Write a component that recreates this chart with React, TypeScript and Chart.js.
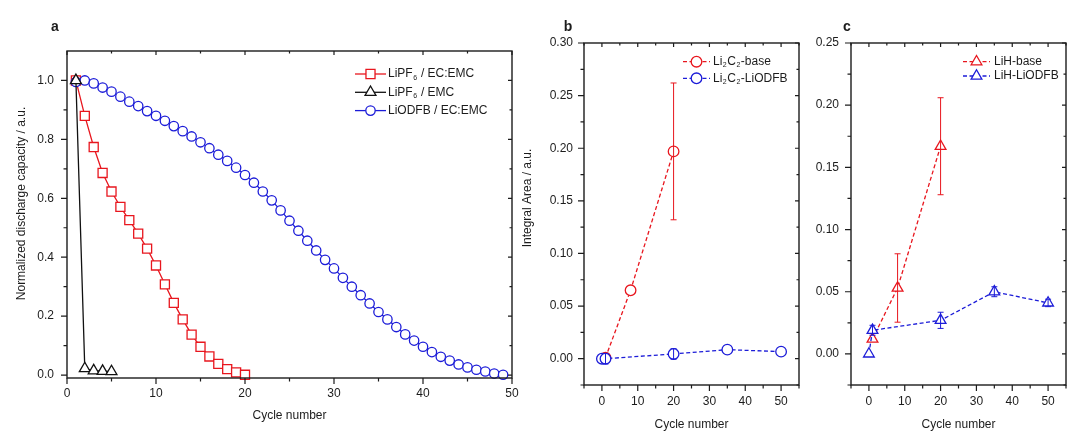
import { useEffect, useRef } from "react"
import { Chart, registerables } from "chart.js"

Chart.register(...registerables)

const FONT = "'Liberation Sans', Arial, Helvetica, sans-serif"
const INK = "#1c1c1c"
const RED = "#e8161e"
const BLUE = "#1c1cd8"

// panel a: normalized discharge capacity vs cycle
const cyclesA = [
	1, 2, 3, 4, 5, 6, 7, 8, 9, 10, 11, 12, 13, 14, 15, 16, 17, 18, 19, 20, 21, 22, 23, 24, 25, 26, 27, 28, 29, 30, 31, 32,
	33, 34, 35, 36, 37, 38, 39, 40, 41, 42, 43, 44, 45, 46, 47, 48, 49
]
const lipf6EcEmc = [
	1.0, 0.88, 0.774, 0.686, 0.623, 0.571, 0.526, 0.48, 0.429, 0.372, 0.308, 0.245, 0.189, 0.137, 0.096, 0.063, 0.038,
	0.02, 0.009, 0.001
]
const lipf6Emc = [1.0, 0.022, 0.015, 0.013, 0.012]
const liodfbEcEmc = [
	0.995, 1.0, 0.99, 0.976, 0.962, 0.945, 0.928, 0.913, 0.896, 0.88, 0.863, 0.845, 0.828, 0.81, 0.79, 0.77, 0.748, 0.727,
	0.704, 0.679, 0.653, 0.623, 0.593, 0.559, 0.524, 0.49, 0.456, 0.423, 0.391, 0.362, 0.33, 0.3, 0.271, 0.243, 0.214,
	0.189, 0.163, 0.138, 0.117, 0.096, 0.078, 0.062, 0.049, 0.036, 0.026, 0.018, 0.012, 0.005, 0.001
]

// panel b: Li2C2 integral area
const cyclesBase = [1, 8, 20]
const cyclesOdfb = [0, 1, 20, 35, 50]
const li2c2Base = [0.001, 0.065, 0.197]
const li2c2BaseErr = [0, 0, 0.065]
const li2c2Odfb = [0, 0, 0.0045, 0.0086, 0.0067]
const li2c2OdfbErr = [0, 0.005, 0.005, 0, 0]

// panel c: LiH integral area
const lihBase = [0.012, 0.053, 0.167]
const lihBaseErr = [0, 0.0275, 0.039]
const lihOdfb = [0, 0.019, 0.027, 0.05, 0.041]
const lihOdfbErr = [0, 0.004, 0.0065, 0.004, 0.003]

// ticks
const xTicksA = [0, 10, 20, 30, 40, 50]
const xMinorA = [5, 15, 25, 35, 45]
const yTicksA = [0, 0.2, 0.4, 0.6, 0.8, 1.0]
const yMinorA = [0.1, 0.3, 0.5, 0.7, 0.9]
const xTicksBC = [0, 10, 20, 30, 40, 50]
const xMinorBC = [-5, 5, 15, 25, 35, 45, 55]
const yTicksB = [0, 0.05, 0.1, 0.15, 0.2, 0.25, 0.3]
const yMinorB = [-0.025, 0.025, 0.075, 0.125, 0.175, 0.225, 0.275]
const yTicksC = [0, 0.05, 0.1, 0.15, 0.2, 0.25]
const yMinorC = [-0.025, 0.025, 0.075, 0.125, 0.175, 0.225]

type Series = {
	label: string
	xs: number[]
	ys: number[]
	err?: number[]
	color: string
	style: "circle" | "rect" | "triangle"
	radius: number
	dash: number[]
	order: number
}

type Panel = {
	letter: string
	letterPos: [number, number]
	yTitle?: string
	yTitlePos?: [number, number]
	series: Series[]
	x: [number, number]
	y: [number, number]
	xTicks: number[]
	xMinor: number[]
	yTicks: number[]
	yMinor: number[]
	decimals: number
	padding: { left: number; right: number; top: number; bottom: number }
	xAxisH: number
	xTickPad: number
	yTickPad: number
	legend: { x: number; y: number; gap: number; len: number; textX: number }
}

const DASH = [4, 2.5]

const panels: Panel[] = [
	{
		letter: "a",
		letterPos: [-12, -24],
		yTitle: "Normalized discharge capacity / a.u.",
		yTitlePos: [-45, -11],
		series: [
			{ label: "LiPF_6 / EC:EMC", xs: cyclesA.slice(0, 20), ys: lipf6EcEmc, color: RED, style: "rect", radius: 6.4, dash: [], order: 2 },
			{ label: "LiPF_6 / EMC", xs: cyclesA.slice(0, 5), ys: lipf6Emc, color: "#111", style: "triangle", radius: 6.3, dash: [], order: 0 },
			{ label: "LiODFB / EC:EMC", xs: cyclesA, ys: liodfbEcEmc, color: BLUE, style: "circle", radius: 4.7, dash: [], order: 1 }
		],
		x: [0, 50],
		y: [-0.01, 1.1],
		xTicks: xTicksA,
		xMinor: xMinorA,
		yTicks: yTicksA,
		yMinor: yMinorA,
		decimals: 1,
		padding: { left: 17, right: 568, top: 51, bottom: 15 },
		xAxisH: 49,
		xTickPad: 8,
		yTickPad: 13,
		legend: { x: 288, y: 23, gap: 18.3, len: 31, textX: 321 }
	},
	{
		letter: "b",
		letterPos: [-16, -16],
		yTitle: "Integral Area / a.u.",
		yTitlePos: [-56, -16],
		series: [
			{ label: "Li_2C_2-base", xs: cyclesBase, ys: li2c2Base, err: li2c2BaseErr, color: RED, style: "circle", radius: 5.3, dash: DASH, order: 1 },
			{ label: "Li_2C_2-LiODFB", xs: cyclesOdfb, ys: li2c2Odfb, err: li2c2OdfbErr, color: BLUE, style: "circle", radius: 5.3, dash: DASH, order: 0 }
		],
		x: [-5, 55],
		y: [-0.025, 0.3],
		xTicks: xTicksBC,
		xMinor: xMinorBC,
		yTicks: yTicksB,
		yMinor: yMinorB,
		decimals: 2,
		padding: { left: 534, right: 281, top: 43, bottom: 6 },
		xAxisH: 51,
		xTickPad: 9.5,
		yTickPad: 11,
		legend: { x: 99, y: 18.7, gap: 16.6, len: 27, textX: 129 }
	},
	{
		letter: "c",
		letterPos: [-4, -16],
		series: [
			{ label: "LiH-base", xs: cyclesBase, ys: lihBase, err: lihBaseErr, color: RED, style: "triangle", radius: 6.2, dash: DASH, order: 1 },
			{ label: "LiH-LiODFB", xs: cyclesOdfb, ys: lihOdfb, err: lihOdfbErr, color: BLUE, style: "triangle", radius: 6.2, dash: DASH, order: 0 }
		],
		x: [-5, 55],
		y: [-0.025, 0.25],
		xTicks: xTicksBC,
		xMinor: xMinorBC,
		yTicks: yTicksC,
		yMinor: yMinorC,
		decimals: 2,
		padding: { left: 801, right: 14, top: 43, bottom: 6 },
		xAxisH: 51,
		xTickPad: 9.5,
		yTickPad: 12,
		legend: { x: 112, y: 18.7, gap: 14.3, len: 27, textX: 143 }
	}
]

function drawMarker(ctx: CanvasRenderingContext2D, s: Series, x: number, y: number) {
	const r = s.radius
	ctx.save()
	ctx.setLineDash([])
	ctx.beginPath()
	if (s.style === "circle") {
		ctx.arc(x, y, r, 0, Math.PI * 2)
	} else if (s.style === "rect") {
		const h = r * Math.SQRT1_2
		ctx.rect(x - h, y - h, 2 * h, 2 * h)
	} else {
		ctx.moveTo(x, y - r)
		ctx.lineTo(x + r * 0.866, y + r / 2)
		ctx.lineTo(x - r * 0.866, y + r / 2)
		ctx.closePath()
	}
	ctx.fillStyle = "#fff"
	ctx.fill()
	ctx.strokeStyle = s.color
	ctx.lineWidth = 1.3
	ctx.stroke()
	ctx.restore()
}

// "_x" marks a subscript character
function drawRichText(ctx: CanvasRenderingContext2D, text: string, x: number, y: number, size: number) {
	const parts = text.split(/(_\w)/).filter(Boolean)
	let cx = x
	ctx.textAlign = "left"
	ctx.textBaseline = "middle"
	ctx.fillStyle = INK
	for (const p of parts) {
		if (p.length === 2 && p[0] === "_") {
			ctx.font = `${Math.round(size * 0.62)}px ${FONT}`
			ctx.fillText(p[1], cx + 0.5, y + size * 0.32)
			cx += ctx.measureText(p[1]).width + 1
		} else {
			ctx.font = `${size}px ${FONT}`
			ctx.fillText(p, cx, y)
			cx += ctx.measureText(p).width
		}
	}
}

function makePlugins(panel: Panel) {
	const errorBars = {
		id: "errorBars",
		afterDatasetsDraw(chart: any) {
			const { ctx } = chart
			const xs = chart.scales.x
			const ys = chart.scales.y
			ctx.save()
			ctx.lineWidth = 1
			panel.series.forEach((s) => {
				if (!s.err) return
				ctx.strokeStyle = s.color
				s.xs.forEach((xv, i) => {
					const e = s.err![i]
					if (!e) return
					const px = xs.getPixelForValue(xv)
					const top = ys.getPixelForValue(s.ys[i] + e)
					const bot = ys.getPixelForValue(s.ys[i] - e)
					ctx.beginPath()
					ctx.moveTo(px, top)
					ctx.lineTo(px, bot)
					ctx.moveTo(px - 3, top)
					ctx.lineTo(px + 3, top)
					ctx.moveTo(px - 3, bot)
					ctx.lineTo(px + 3, bot)
					ctx.stroke()
				})
			})
			ctx.restore()
		}
	}

	const frame = {
		id: "frame",
		afterDraw(chart: any) {
			const { ctx, chartArea: a } = chart
			const xs = chart.scales.x
			const ys = chart.scales.y
			ctx.save()
			ctx.strokeStyle = INK
			ctx.lineWidth = 1.4
			ctx.setLineDash([])
			ctx.strokeRect(a.left, a.top, a.right - a.left, a.bottom - a.top)
			const tick = (vals: number[], out: number, inn: number) => {
				ctx.beginPath()
				vals.forEach((v) => {
					const px = xs.getPixelForValue(v)
					ctx.moveTo(px, a.bottom)
					ctx.lineTo(px, a.bottom + out)
					ctx.moveTo(px, a.top)
					ctx.lineTo(px, a.top + inn)
				})
				ctx.stroke()
			}
			const tickY = (vals: number[], out: number, inn: number) => {
				ctx.beginPath()
				vals.forEach((v) => {
					const py = ys.getPixelForValue(v)
					ctx.moveTo(a.left - out, py)
					ctx.lineTo(a.left, py)
					ctx.moveTo(a.right, py)
					ctx.lineTo(a.right - inn, py)
				})
				ctx.stroke()
			}
			ctx.lineWidth = 1.2
			tick(panel.xTicks, 6, 4)
			tick(panel.xMinor, 3.5, 2.5)
			tickY(panel.yTicks, 6, 4)
			tickY(panel.yMinor, 3.5, 2.5)

			// panel letter
			ctx.fillStyle = INK
			ctx.font = `bold 14px ${FONT}`
			ctx.textAlign = "center"
			ctx.textBaseline = "middle"
			ctx.fillText(panel.letter, a.left + panel.letterPos[0], a.top + panel.letterPos[1])

			// y title
			if (panel.yTitle && panel.yTitlePos) {
				ctx.save()
				ctx.translate(a.left + panel.yTitlePos[0], (a.top + a.bottom) / 2 + panel.yTitlePos[1])
				ctx.rotate(-Math.PI / 2)
				ctx.font = `12px ${FONT}`
				ctx.fillText(panel.yTitle, 0, 0)
				ctx.restore()
			}

			// legend
			const lg = panel.legend
			panel.series.forEach((s, i) => {
				const y = a.top + lg.y + i * lg.gap
				const x0 = a.left + lg.x
				ctx.save()
				ctx.strokeStyle = s.color
				ctx.lineWidth = 1.3
				ctx.setLineDash(s.dash)
				ctx.beginPath()
				ctx.moveTo(x0, y)
				ctx.lineTo(x0 + lg.len, y)
				ctx.stroke()
				ctx.restore()
				drawMarker(ctx, s, x0 + lg.len / 2, y)
				drawRichText(ctx, s.label, a.left + lg.textX, y, 12)
			})
			ctx.restore()
		}
	}
	return [errorBars, frame]
}

function buildConfig(panel: Panel): any {
	return {
		type: "line",
		data: {
			datasets: panel.series.map((s) => ({
				label: s.label,
				data: s.xs.map((x, i) => ({ x, y: s.ys[i] })),
				order: s.order,
				borderColor: s.color,
				borderWidth: 1.3,
				borderDash: s.dash,
				pointStyle: s.style,
				pointRadius: s.radius,
				pointBorderWidth: 1.3,
				pointBorderColor: s.color,
				pointBackgroundColor: "#fff",
				showLine: true,
				tension: 0,
				fill: false,
				clip: false
			}))
		},
		options: {
			responsive: false,
			animation: false,
			events: [],
			layout: { padding: panel.padding },
			plugins: {
				legend: { display: false },
				tooltip: { enabled: false }
			},
			scales: {
				x: {
					type: "linear",
					min: panel.x[0],
					max: panel.x[1],
					grid: { display: false, drawTicks: false },
					border: { display: false },
					afterBuildTicks: (scale: any) => {
						scale.ticks = panel.xTicks.map((value) => ({ value }))
					},
					afterFit: (scale: any) => {
						scale.height = panel.xAxisH
					},
					ticks: {
						color: INK,
						padding: panel.xTickPad,
						maxRotation: 0,
						font: { family: FONT, size: 12 },
						callback: (v: number) => String(v)
					},
					title: {
						display: true,
						text: "Cycle number",
						color: INK,
						font: { family: FONT, size: 12 },
						padding: { top: 0, bottom: 4 }
					}
				},
				y: {
					type: "linear",
					min: panel.y[0],
					max: panel.y[1],
					grid: { display: false, drawTicks: false },
					border: { display: false },
					afterBuildTicks: (scale: any) => {
						scale.ticks = panel.yTicks.map((value) => ({ value }))
					},
					afterFit: (scale: any) => {
						scale.width = 50
					},
					ticks: {
						color: INK,
						padding: panel.yTickPad,
						font: { family: FONT, size: 12 },
						callback: (v: number) => Number(v).toFixed(panel.decimals)
					}
				}
			}
		},
		plugins: makePlugins(panel)
	}
}

function PanelChart({ panel }: { panel: Panel }) {
	const canvasRef = useRef<HTMLCanvasElement>(null)

	useEffect(() => {
		const chart = new Chart(canvasRef.current as HTMLCanvasElement, buildConfig(panel))
		return () => {
			chart.destroy()
		}
	}, [panel])

	return (
		<canvas
			ref={canvasRef}
			width={1080}
			height={442}
			style={{ position: "absolute", left: 0, top: 0, width: 1080, height: 442 }}
		/>
	)
}

export default function App() {
	return (
		<div style={{ position: "fixed", left: 0, top: 0, width: 1080, height: 442, background: "#fff" }}>
			{panels.map((p) => (
				<PanelChart key={p.letter} panel={p} />
			))}
		</div>
	)
}
